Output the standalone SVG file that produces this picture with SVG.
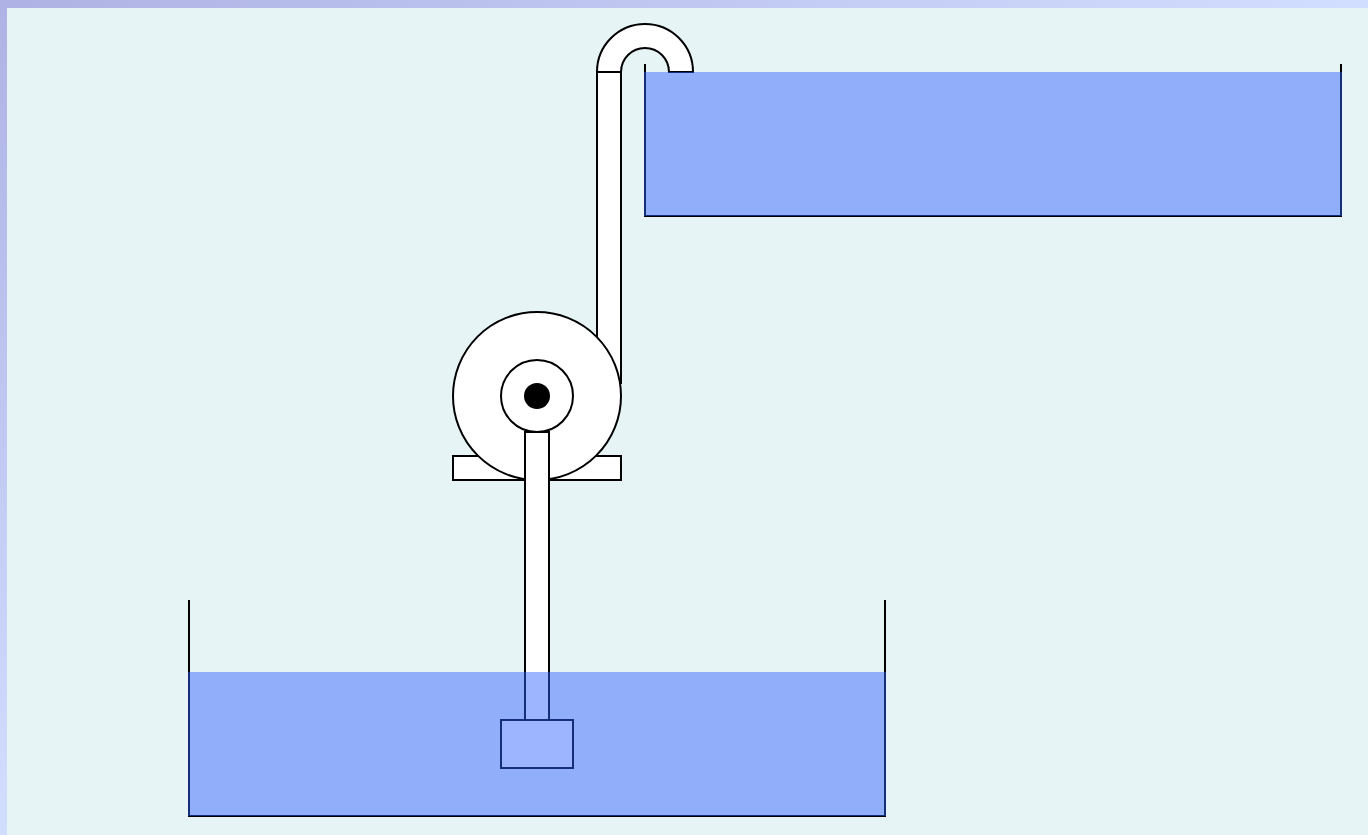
<svg xmlns="http://www.w3.org/2000/svg" width="1368" height="835" viewBox="0 0 1368 835">
<style>
.s{fill:#fff;stroke:#000;stroke-width:2}
.w{fill:none;stroke:#000;stroke-width:2}
.water{fill:#2e5fff;fill-opacity:.47;stroke:none}
</style>
<defs>
<linearGradient id="gt" x1="0" y1="0" x2="1" y2="0"><stop offset="0" stop-color="#aeb2e4"/><stop offset="1" stop-color="#d2deff"/></linearGradient>
<linearGradient id="gl" x1="0" y1="0" x2="0" y2="1"><stop offset="0" stop-color="#aeb2e4"/><stop offset="1" stop-color="#d2deff"/></linearGradient>
</defs>
<rect id="background" width="1368" height="835" fill="#e6f4f5"/>
<rect id="frame-top" width="1368" height="8" fill="url(#gt)"/>
<rect id="frame-left" width="7" height="835" fill="url(#gl)"/>
<g id="upper-tank">
<path class="w" d="M645 64V216H1341V64"/>
</g>
<g id="lower-tank">
<path class="w" d="M189 600V816H885V600"/>
</g>
<g id="discharge-pipe">
<path class="s" d="M597 384V72H621V384"/>
<path class="s" d="M597 72A48 48 0 0 1 693 72H669A24 24 0 0 0 621 72Z"/>
</g>
<g id="pump">
<rect class="s" x="453" y="456" width="168" height="24"/>
<circle class="s" cx="537" cy="396" r="84"/>
<circle class="s" cx="537" cy="396" r="36"/>
<circle cx="537" cy="396" r="13" fill="#000"/>
</g>
<g id="suction-pipe">
<rect class="s" x="525" y="432" width="24" height="288"/>
<rect class="s" x="501" y="720" width="72" height="48"/>
</g>
<g id="water">
<rect class="water" x="644" y="72" width="698" height="144"/>
<rect class="water" x="188" y="672" width="698" height="144"/>
</g>
</svg>
